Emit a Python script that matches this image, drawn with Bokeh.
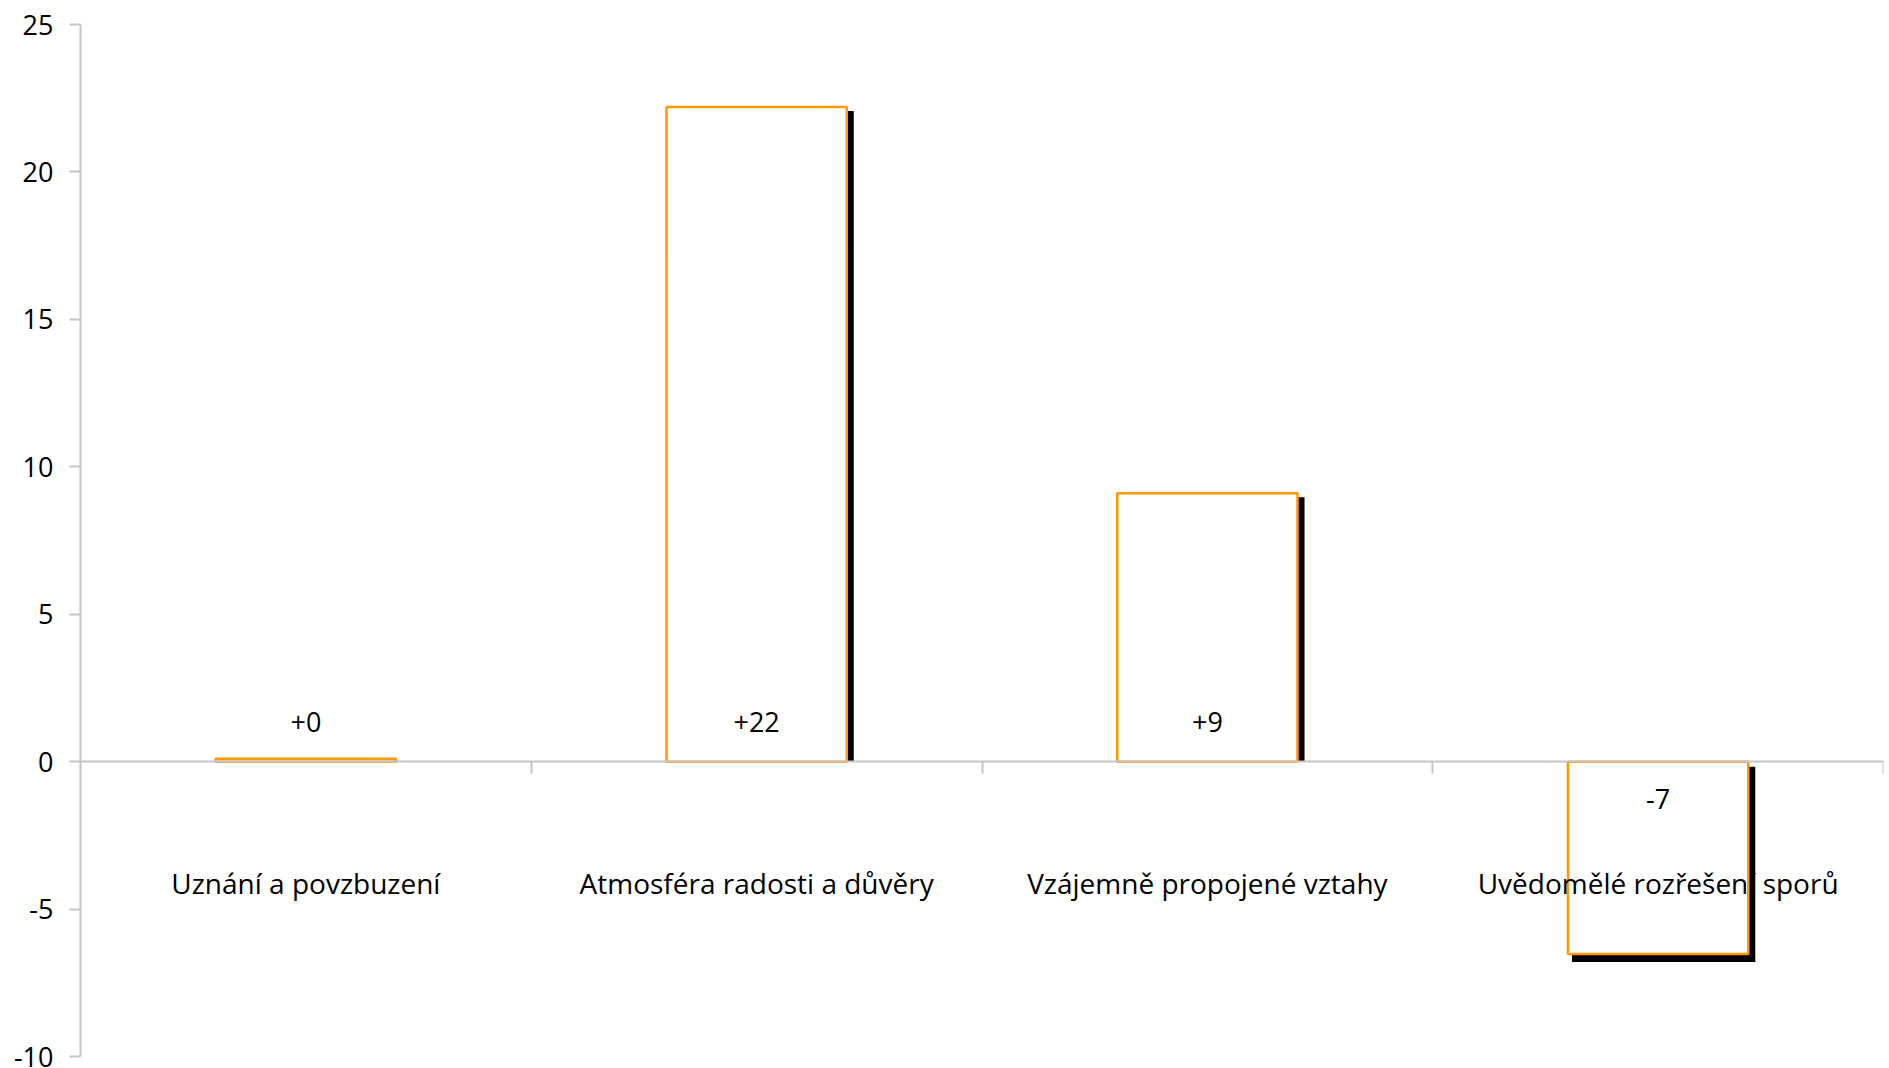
from bokeh.plotting import figure
from bokeh.models import Range1d, LinearAxis, FixedTicker, ColumnDataSource
from bokeh.core.properties import value
from bokeh.embed import file_html
from bokeh.resources import INLINE

# ---- data ----
categories = ["Uznání a povzbuzení", "Atmosféra radosti a důvěry",
              "Vzájemně propojené vztahy", "Uvědomělé rozřešení sporů"]
values = [0.1, 22.2, 9.1, -6.52]
y_ticks = [-10, -5, 0, 5, 10, 15, 20, 25]
y_min, y_max = -10, 25

# ---- layout constants ----
W, H = 1885, 1068
BL, BR, BT, BB = 80, 2, 24, 12
FONT = "Open Sans"
FS = "27px"
FS_CAT = "28px"
GRAY = "#C6C6C6"
ORANGE = "#FF9900"

n = len(categories)
frame_w = W - BL - BR
frame_h = H - BT - BB
px_x = frame_w / n
px_y = frame_h / (y_max - y_min)

centers = [i + 0.5 for i in range(n)]
boundaries = [i + 1 for i in range(n)]
bw = 0.4

bars = ColumnDataSource(dict(
    left=[c - bw / 2 for c in centers],
    right=[c + bw / 2 for c in centers],
    top=[max(v, 0) for v in values],
    bottom=[min(v, 0) for v in values],
))
shadow = ColumnDataSource(dict(
    left=[c - bw / 2 + 4 / px_x for c in centers],
    right=[c + bw / 2 + 7 / px_x for c in centers],
    top=[max(v - 4 / px_y, 0) if v > 0 else -5 / px_y for v in values],
    bottom=[0 if v > 0 else v - 8 / px_y for v in values],
))
labels = ColumnDataSource(dict(
    x=centers,
    y=[0] * n,
    t=[f"{v:+.0f}" for v in values],
    yo=[-40 if v >= 0 else 37 for v in values],
))

p = figure(width=W, height=H, output_backend="svg", toolbar_location=None,
           x_range=Range1d(0, n), y_range=Range1d(y_min, y_max),
           x_axis_location=None, y_axis_location=None,
           min_border_left=BL, min_border_right=BR,
           min_border_top=BT, min_border_bottom=BB)
p.outline_line_color = None
p.background_fill_color = "white"
p.border_fill_color = "white"
p.grid.visible = False

p.quad(left="left", right="right", top="top", bottom="bottom", source=shadow,
       fill_color="black", line_color=None)
p.quad(left="left", right="right", top="top", bottom="bottom", source=bars,
       fill_color="white", line_color=ORANGE, line_width=2.5)
p.text(x="x", y="y", text="t", y_offset="yo", source=labels,
       text_font=value(FONT), text_font_size=FS, text_color="black",
       text_align="center", text_baseline="middle")

yaxis = LinearAxis(ticker=FixedTicker(ticks=y_ticks),
                   major_label_overrides={t: str(t) for t in y_ticks})
yaxis.axis_line_color = GRAY
yaxis.axis_line_width = 2
yaxis.major_tick_line_color = GRAY
yaxis.major_tick_line_width = 2
yaxis.major_tick_out = 11
yaxis.major_tick_in = 0
yaxis.minor_tick_line_color = None
yaxis.major_label_standoff = 16
yaxis.major_label_text_font = FONT
yaxis.major_label_text_font_size = FS
yaxis.major_label_text_color = "black"
p.add_layout(yaxis, "left")

xaxis = LinearAxis(ticker=FixedTicker(ticks=centers, minor_ticks=boundaries),
                   major_label_overrides={c: name for c, name in zip(centers, categories)},
                   fixed_location=0)
xaxis.axis_line_color = GRAY
xaxis.axis_line_width = 2
xaxis.major_tick_line_color = None
xaxis.major_tick_out = 0
xaxis.major_tick_in = 0
xaxis.minor_tick_line_color = GRAY
xaxis.minor_tick_line_width = 2
xaxis.minor_tick_out = 12
xaxis.minor_tick_in = 0
xaxis.major_label_standoff = 90
xaxis.major_label_text_font = FONT
xaxis.major_label_text_font_size = FS_CAT
xaxis.major_label_text_color = "black"
p.add_layout(xaxis, "below")

open("out.html", "w").write(file_html(p, INLINE))
